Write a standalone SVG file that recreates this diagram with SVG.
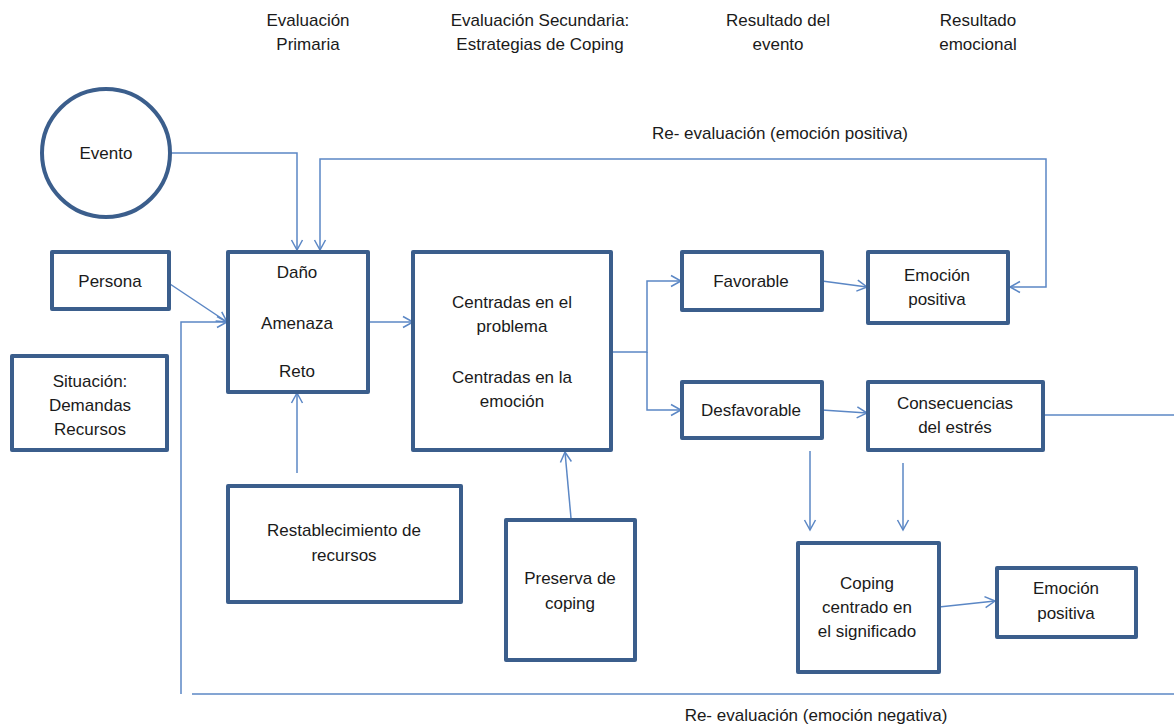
<svg xmlns="http://www.w3.org/2000/svg" width="1174" height="725" viewBox="0 0 1174 725">
<style>
.box{fill:#fff;stroke:#3b5e8c;stroke-width:4;stroke-linejoin:round}
.t{font-family:"Liberation Sans",Arial,sans-serif;font-size:17px;fill:#1a1a1a;text-anchor:middle}
.c{fill:none;stroke:#5b87c5;stroke-width:1.5}
</style>
<defs>
<marker id="a" markerUnits="userSpaceOnUse" markerWidth="14" markerHeight="14" refX="12" refY="7" orient="auto-start-reverse">
<path d="M2,1.5 L12,7 L2,12.5" fill="none" stroke="#5b87c5" stroke-width="1.5"/>
</marker>
</defs>
<rect width="1174" height="725" fill="#fff"/>
<g id="headers">
<text class="t" x="308" y="26">Evaluación</text>
<text class="t" x="308" y="50">Primaria</text>
<text class="t" x="540" y="26">Evaluación Secundaria:</text>
<text class="t" x="540" y="50">Estrategias de Coping</text>
<text class="t" x="778" y="26">Resultado del</text>
<text class="t" x="778" y="50">evento</text>
<text class="t" x="978" y="26">Resultado</text>
<text class="t" x="978" y="50">emocional</text>
</g>
<g id="connectors">
<path class="c" d="M170,153 H297 V250" marker-end="url(#a)"/>
<path class="c" d="M1010,287 H1046 V159 H320 V250" marker-start="url(#a)" marker-end="url(#a)"/>
<path class="c" d="M170,284 L227,322" marker-end="url(#a)"/>
<path class="c" d="M181,694 V322 H227" marker-end="url(#a)"/>
<path class="c" d="M368,322 H413" marker-end="url(#a)"/>
<path class="c" d="M297,473 V393" marker-end="url(#a)"/>
<path class="c" d="M571,518 L565,452" marker-end="url(#a)"/>
<path class="c" d="M612,352 H647 V281 H681" marker-end="url(#a)"/>
<path class="c" d="M647,352 V410 H681" marker-end="url(#a)"/>
<path class="c" d="M822,281 L867,287" marker-end="url(#a)"/>
<path class="c" d="M822,410 L867,413" marker-end="url(#a)"/>
<path class="c" d="M1043,415 H1174"/>
<path class="c" d="M810,451 V530" marker-end="url(#a)"/>
<path class="c" d="M903,463 V530" marker-end="url(#a)"/>
<path class="c" d="M939,607 L995,601" marker-end="url(#a)"/>
<path class="c" d="M192,694 H1174"/>
<text class="t" x="780" y="139">Re- evaluación (emoción positiva)</text>
<text class="t" x="816" y="721">Re- evaluación (emoción negativa)</text>
</g>
<g id="evento">
<circle cx="106" cy="153" r="64" fill="#fff" stroke="#3b5e8c" stroke-width="4"/>
<text class="t" x="106" y="159">Evento</text>
</g>
<g id="persona">
<rect class="box" x="52" y="252" width="117" height="57"/>
<text class="t" x="110" y="287">Persona</text>
</g>
<g id="situacion">
<rect class="box" x="12" y="356" width="155" height="94"/>
<text class="t" x="90" y="387">Situación:</text>
<text class="t" x="90" y="411">Demandas</text>
<text class="t" x="90" y="435">Recursos</text>
</g>
<g id="evaluacion-primaria">
<rect class="box" x="228" y="252" width="140" height="140"/>
<text class="t" x="297" y="278">Daño</text>
<text class="t" x="297" y="329">Amenaza</text>
<text class="t" x="297" y="377">Reto</text>
</g>
<g id="centradas">
<rect class="box" x="413" y="252" width="198" height="198"/>
<text class="t" x="512" y="308">Centradas en el</text>
<text class="t" x="512" y="332">problema</text>
<text class="t" x="512" y="383">Centradas en la</text>
<text class="t" x="512" y="407">emoción</text>
</g>
<g id="favorable">
<rect class="box" x="682" y="252" width="140" height="58"/>
<text class="t" x="751" y="287">Favorable</text>
</g>
<g id="desfavorable">
<rect class="box" x="682" y="382" width="140" height="56"/>
<text class="t" x="751" y="416">Desfavorable</text>
</g>
<g id="emocion-positiva-1">
<rect class="box" x="868" y="252" width="140" height="71"/>
<text class="t" x="937" y="281">Emoción</text>
<text class="t" x="937" y="305">positiva</text>
</g>
<g id="consecuencias">
<rect class="box" x="868" y="382" width="175" height="68"/>
<text class="t" x="955" y="409">Consecuencias</text>
<text class="t" x="955" y="433">del estrés</text>
</g>
<g id="restablecimiento">
<rect class="box" x="228" y="486" width="233" height="116"/>
<text class="t" x="344" y="536">Restablecimiento de</text>
<text class="t" x="344" y="561">recursos</text>
</g>
<g id="preserva">
<rect class="box" x="506" y="520" width="129" height="140"/>
<text class="t" x="570" y="584">Preserva de</text>
<text class="t" x="570" y="609">coping</text>
</g>
<g id="coping-significado">
<rect class="box" x="798" y="543" width="141" height="129"/>
<text class="t" x="867" y="589">Coping</text>
<text class="t" x="867" y="613">centrado en</text>
<text class="t" x="867" y="637">el significado</text>
</g>
<g id="emocion-positiva-2">
<rect class="box" x="997" y="568" width="139" height="69"/>
<text class="t" x="1066" y="594">Emoción</text>
<text class="t" x="1066" y="619">positiva</text>
</g>
</svg>
